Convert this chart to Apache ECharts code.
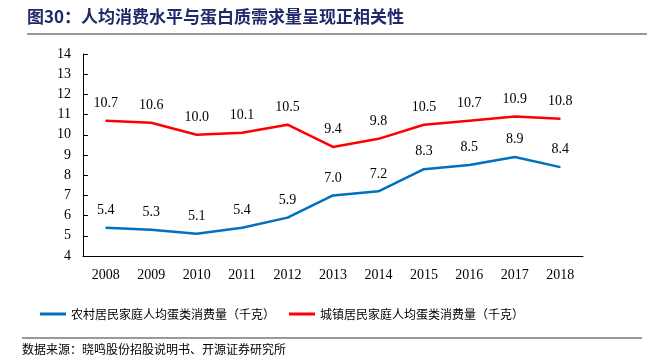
<!DOCTYPE html>
<html><head><meta charset="utf-8">
<script src="https://cdn.jsdelivr.net/npm/echarts@6/dist/echarts.min.js"></script>
<style>html,body{margin:0;padding:0;background:#fff}#c{width:647px;height:361px}</style>
</head><body><div id="c"></div>
<script>
const years = ['2008','2009','2010','2011','2012','2013','2014','2015','2016','2017','2018'];
const rural = [5.4,5.3,5.1,5.4,5.9,7.0,7.2,8.3,8.5,8.9,8.4];
const urban = [10.7,10.6,10.0,10.1,10.5,9.4,9.8,10.5,10.7,10.9,10.8];
const ruralName = '农村居民家庭人均蛋类消费量（千克）';
const urbanName = '城镇居民家庭人均蛋类消费量（千克）';
const titleText = '图30：人均消费水平与蛋白质需求量呈现正相关性';
const sourceText = '数据来源：晓鸣股份招股说明书、开源证券研究所';

const chart = echarts.init(document.getElementById('c'));
const serif = '"Liberation Serif","Times New Roman",serif';
const cjk = '"Noto Sans CJK SC",sans-serif';
const lbl = {show:true,position:'top',distance:10,fontFamily:serif,fontSize:14,color:'#000',
  formatter:p=>p.value.toFixed(1)};
chart.setOption({
  animation:false,
  grid:{left:83,right:64,top:54,bottom:105},
  legend:{
    bottom:36,left:35,itemWidth:26,itemHeight:3,itemGap:14,icon:'rect',
    textStyle:{fontFamily:cjk,fontSize:12,color:'#000'},
    data:[ruralName,urbanName]
  },
  xAxis:{
    type:'category',data:years,boundaryGap:true,
    axisLine:{lineStyle:{color:'#000',width:1}},
    axisTick:{inside:true,length:5,lineStyle:{color:'#000'}},
    axisLabel:{fontFamily:serif,fontSize:14,color:'#000',margin:12}
  },
  yAxis:{
    type:'value',min:4,max:14,interval:1,
    axisLine:{show:true,lineStyle:{color:'#000',width:1}},
    axisTick:{show:true,inside:true,length:5,lineStyle:{color:'#000'}},
    splitLine:{show:false},
    axisLabel:{fontFamily:serif,fontSize:14,color:'#000',margin:12}
  },
  series:[
    {name:ruralName,type:'line',data:rural,symbol:'circle',symbolSize:1,showSymbol:true,
     lineStyle:{color:'#0070C0',width:2.5},itemStyle:{color:'#0070C0'},label:lbl},
    {name:urbanName,type:'line',data:urban,symbol:'circle',symbolSize:1,showSymbol:true,
     lineStyle:{color:'#FF0000',width:2.5},itemStyle:{color:'#FF0000'},label:lbl}
  ],
  graphic:[
    {type:'text',left:27,top:8,style:{text:titleText,font:'bold 17px '+cjk,fill:'#1F2A6B'}},
    {type:'rect',shape:{x:27,y:33,width:620,height:2},style:{fill:'#999'}},
    {type:'rect',shape:{x:22,y:337,width:620,height:2},style:{fill:'#999'}},
    {type:'text',left:22,top:343,style:{text:sourceText,font:'12px '+cjk,fill:'#000'}}
  ]
});
</script></body></html>
